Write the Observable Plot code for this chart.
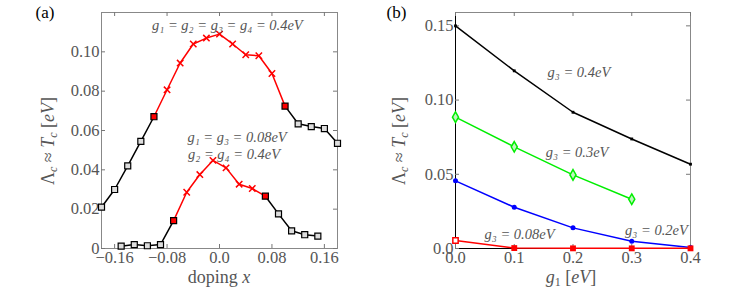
<!DOCTYPE html>
<html><head><meta charset="utf-8">
<script src="https://cdn.jsdelivr.net/npm/d3@7"></script>
<script src="https://cdn.jsdelivr.net/npm/@observablehq/plot@0.6"></script>
<style>
body{margin:0;background:#fff;}
#wrap{display:flex;width:747px;height:297px;}
svg, svg text{font-family:'Liberation Serif','DejaVu Serif',serif !important;}
</style></head><body><div id="wrap"></div>
<script>
// ---------- Panel (a) data ----------
const upperX = [-0.18,-0.16,-0.14,-0.12,-0.10,-0.08,-0.06,-0.04,-0.02,0.00,0.02,0.04,0.06,0.08,0.10,0.12,0.14,0.16,0.18];
const upperY = [0.021,0.030,0.042,0.0545,0.067,0.0807,0.0943,0.104,0.107,0.109,0.104,0.0985,0.098,0.089,0.0724,0.0634,0.062,0.061,0.0535];
const upperRed = [-0.10, 0.10]; // red (crossed) range
const lowerX = [-0.15,-0.13,-0.11,-0.09,-0.07,-0.05,-0.03,-0.01,0.01,0.03,0.05,0.07,0.09,0.11,0.13,0.15];
const lowerY = [0.0012,0.002,0.0014,0.002,0.0142,0.0286,0.0376,0.0448,0.041,0.0327,0.0305,0.0266,0.0176,0.009,0.007,0.0063];
const lowerRed = [-0.07, 0.07];
const aXTicks = [-0.16,-0.08,0,0.08,0.16];
const aYTicks = [0,0.02,0.04,0.06,0.08,0.10];
const aNoteTop = [{x:0.012, y:0.1134, text:"g₁ = g₂ = g₃ = g₄ = 0.4eV"}];
const aNotesLow = [
  {x:-0.049, y:0.0563, text:"g₁ = g₃ = 0.08eV"},
  {x:-0.048, y:0.048, text:"g₂ = g₄ = 0.4eV"}
];
// ---------- Panel (b) data ----------
const g1 = [0.0,0.1,0.2,0.3,0.4];
const s04 = [0.150,0.1197,0.0918,0.0738,0.0568];
const s03 = [0.0885,0.0685,0.0496,0.0332];
const s02 = [0.0456,0.0278,0.0139,0.0049,0.0007];
const s008 = [0.0054,0.0003,0.0001,0.0001,0.0001];
const bXTicks = [0,0.1,0.2,0.3,0.4];
const bYTicks = [0,0.05,0.10,0.15];
const bNotes = [
  {x:0.210, y:0.119, text:"g₃ = 0.4eV"},
  {x:0.207, y:0.0647, text:"g₃ = 0.3eV"},
  {x:0.109, y:0.0094, text:"g₃ = 0.08eV"},
  {x:0.342, y:0.0123, text:"g₃ = 0.2eV"}
];

const FF = "'Liberation Serif','DejaVu Serif',serif";
const FONT = "16.5px";
const GRAY = "#555";
const NOTE = 14.5;

function rows(xs, ys, red, curve){
  return xs.map((x,i)=>{
    const y = ys[i];
    const r = x >= red[0]-1e-9 && x <= red[1]+1e-9;
    const junction = Math.abs(x-red[0])<1e-9 || Math.abs(x-red[1])<1e-9;
    const left = x <= red[0]+1e-9, right = x >= red[1]-1e-9;
    return {x,y,curve,red:r,junction,black:left||right,seg: left? curve+"L" : (right? curve+"R" : null)};
  });
}
const aData = [...rows(upperX, upperY, upperRed, "u"), ...rows(lowerX, lowerY, lowerRed, "l")];

function inwardTicks(xTicks, yTicks, W, H, ml, mr, mt, mb, stroke){
  const pw = W-ml-mr, ph = H-mt-mb;
  return [
    Plot.tickX(xTicks, {x:d=>d, insetTop: ph-4, stroke}),
    Plot.tickX(xTicks, {x:d=>d, insetBottom: ph-4, stroke}),
    Plot.tickY(yTicks, {y:d=>d, insetRight: pw-4, stroke}),
    Plot.tickY(yTicks, {y:d=>d, insetLeft: pw-4, stroke})
  ];
}

// ---------- Panel (a) ----------
const A = {W:373,H:297,ml:101,mr:36,mt:12,mb:49};
const plotA = Plot.plot({
  width:A.W, height:A.H, marginLeft:A.ml, marginRight:A.mr, marginTop:A.mt, marginBottom:A.mb,
  style:{fontFamily:FF, fontSize:FONT, background:"white"},
  x:{domain:[-0.18,0.18]}, y:{domain:[0,0.12]},
  marks:[
    Plot.frame({stroke:"#888"}),
    ...inwardTicks(aXTicks, aYTicks, A.W,A.H,A.ml,A.mr,A.mt,A.mb,"#777"),
    Plot.axisX({ticks:aXTicks, tickSize:0, tickPadding:3, label:null, color:GRAY, fontSize:16.5,
      tickFormat:d=> d===0 ? "0.0" : d.toFixed(2).replace("-","−")}),
    Plot.axisY({ticks:aYTicks, tickSize:0, tickPadding:2, label:null, color:GRAY, fontSize:16.5,
      tickFormat:d=> d===0 ? "0" : d.toFixed(2)}),
    Plot.line(aData.filter(d=>d.black), {x:"x", y:"y", z:"seg", stroke:"black", strokeWidth:1.5}),
    Plot.line(aData.filter(d=>d.red), {x:"x", y:"y", z:"curve", stroke:"red", strokeWidth:1.5}),
    Plot.dot(aData.filter(d=>d.black && !d.junction), {x:"x", y:"y", symbol:"square", r:3.4, fill:"#ddd", stroke:"black", strokeWidth:1.2}),
    Plot.dot(aData.filter(d=>d.junction), {x:"x", y:"y", symbol:"square", r:3.4, fill:"red", stroke:"black", strokeWidth:1.2}),
    Plot.dot(aData.filter(d=>d.red && !d.junction), {x:"x", y:"y", symbol:"times", r:3, stroke:"red", strokeWidth:1.5}),
    Plot.text(aNoteTop, {x:"x", y:"y", text:"text", textAnchor:"middle", fill:GRAY, fontStyle:"italic", fontSize:NOTE}),
    Plot.text(aNotesLow, {x:"x", y:"y", text:"text", textAnchor:"start", fill:GRAY, fontStyle:"italic", fontSize:NOTE}),
    Plot.text(["(a)"], {frameAnchor:"top-left", dx:-66, dy:-7, fill:"black", fontSize:17, textAnchor:"start"})
  ]
});

// ---------- Panel (b) ----------
const B = {W:374,H:297,ml:82,mr:57,mt:12,mb:49};
const bRows = (ys, key)=> ys.map((y,i)=>({g:g1[i], y, key}));
const b04 = bRows(s04,"0.4"), b03 = bRows(s03,"0.3"), b02 = bRows(s02,"0.2"), b008 = bRows(s008,"0.08");
const plotB = Plot.plot({
  width:B.W, height:B.H, marginLeft:B.ml, marginRight:B.mr, marginTop:B.mt, marginBottom:B.mb,
  style:{fontFamily:FF, fontSize:FONT, background:"white"},
  x:{domain:[0,0.4]}, y:{domain:[0,0.159]},
  marks:[
    Plot.frame({stroke:"#888"}),
    Plot.ruleX([0], {stroke:"black"}),
    Plot.ruleY([0], {stroke:"black"}),
    ...inwardTicks(bXTicks, bYTicks, B.W,B.H,B.ml,B.mr,B.mt,B.mb,"#777"),
    Plot.axisX({ticks:bXTicks, tickSize:0, tickPadding:3, label:null, color:GRAY, fontSize:16.5, tickFormat:d=>d.toFixed(1)}),
    Plot.axisY({ticks:bYTicks, tickSize:0, tickPadding:2, label:null, color:GRAY, fontSize:16.5,
      tickFormat:d=> d===0 ? "0.0" : d.toFixed(2)}),
    Plot.line(b04, {x:"g", y:"y", stroke:"black", strokeWidth:1.5}),
    Plot.dot(b04, {x:"g", y:"y", symbol:"square", r:1.6, fill:"black"}),
    Plot.line(b03, {x:"g", y:"y", stroke:"#00ee00", strokeWidth:1.5}),
    Plot.dot(b03, {x:"g", y:"y", symbol:"diamond", r:3.2, fill:"#bff5bf", stroke:"#00ee00", strokeWidth:1.5}),
    Plot.line(b02, {x:"g", y:"y", stroke:"blue", strokeWidth:1.5}),
    Plot.dot(b02, {x:"g", y:"y", r:2.5, fill:"blue"}),
    Plot.line(b008, {x:"g", y:"y", stroke:"red", strokeWidth:1.5}),
    Plot.dot(b008.slice(0,1), {x:"g", y:"y", symbol:"square", r:3, fill:"white", stroke:"red", strokeWidth:1.5}),
    Plot.dot(b008.slice(1), {x:"g", y:"y", symbol:"square", r:3.3, fill:"red"}),
    Plot.text(bNotes, {x:"x", y:"y", text:"text", fill:GRAY, fontStyle:"italic", fontSize:NOTE}),
    Plot.text(["(b)"], {frameAnchor:"top-left", dx:-69, dy:-7, fill:"black", fontSize:17, textAnchor:"start"})
  ]
});

function addYLabel(svg, x, y){
  const t = d3.select(svg).append("text")
    .attr("transform", `translate(${x},${y}) rotate(-90)`)
    .attr("text-anchor","middle").attr("dominant-baseline","middle")
    .attr("fill", GRAY).style("font-size","18px").style("font-family",FF);
  t.append("tspan").text("Λ");
  t.append("tspan").text("c").attr("font-style","italic").attr("font-size","12px").attr("dy","4");
  t.append("tspan").text(" ≈ ").attr("dy","-4");
  t.append("tspan").text("T").attr("font-style","italic");
  t.append("tspan").text("c").attr("font-style","italic").attr("font-size","12px").attr("dy","4");
  t.append("tspan").text(" [").attr("dy","-4");
  t.append("tspan").text("eV").attr("font-style","italic");
  t.append("tspan").text("]");
}
function addXLabel(svg, x, y, parts){
  const t = d3.select(svg).append("text")
    .attr("x", x).attr("y", y).attr("text-anchor","middle").attr("dominant-baseline","middle")
    .attr("fill", GRAY).style("font-size","18px").style("font-family",FF);
  parts.forEach(p=>{
    const s = t.append("tspan").text(p.t);
    if(p.i) s.attr("font-style","italic");
    if(p.dy) s.attr("dy", p.dy);
    if(p.fs) s.attr("font-size", p.fs);
  });
}
addYLabel(plotA, 50, 141);
addXLabel(plotA, 219, 279, [{t:"doping "},{t:"x",i:true}]);
addYLabel(plotB, 28, 141);
addXLabel(plotB, 198, 279, [{t:"g",i:true},{t:"1",fs:"12px",dy:"4"},{t:" [",dy:"-4"},{t:"eV",i:true},{t:"]"}]);

document.getElementById("wrap").append(plotA, plotB);
</script></body></html>
